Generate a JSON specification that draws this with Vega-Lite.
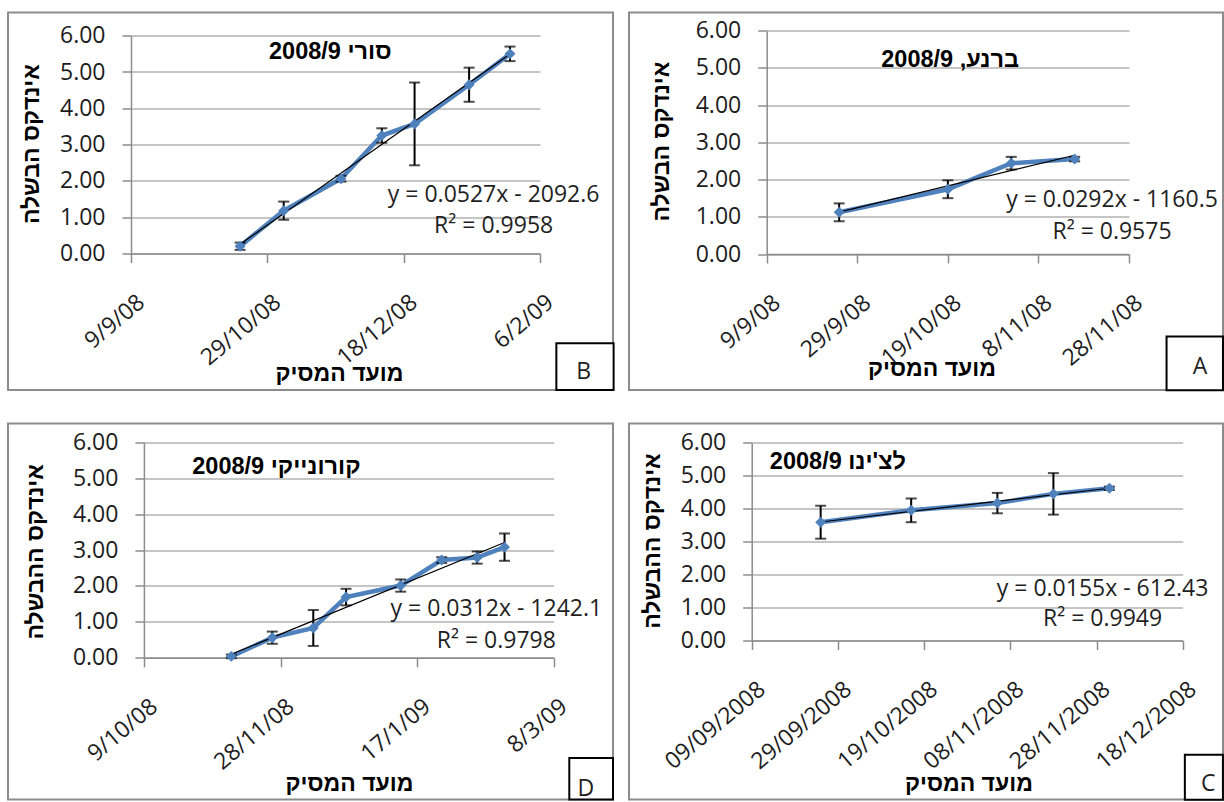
{
  "$schema": "https://vega.github.io/schema/vega-lite/v6.json",
  "padding": {"left": 7, "top": 11.5, "right": 0, "bottom": 0},
  "background": "white",
  "columns": 2,
  "spacing": {"row": 33, "column": 16},
  "bounds": "flush",
  "datasets": {
    "sori": [
      {"date": "2008-10-19T00:00", "value": 0.2, "err": 0.1},
      {"date": "2008-11-04T00:00", "value": 1.18, "err": 0.25},
      {"date": "2008-11-25T00:00", "value": 2.06, "err": 0.08},
      {"date": "2008-12-10T00:00", "value": 3.25, "err": 0.2},
      {"date": "2008-12-22T00:00", "value": 3.57, "err": 1.14},
      {"date": "2009-01-11T00:00", "value": 4.65, "err": 0.47},
      {"date": "2009-01-26T00:00", "value": 5.5, "err": 0.2}
    ],
    "barnea": [
      {"date": "2008-09-25T00:00", "value": 1.12, "err": 0.24},
      {"date": "2008-10-19T00:00", "value": 1.74, "err": 0.24},
      {"date": "2008-11-02T00:00", "value": 2.44, "err": 0.17},
      {"date": "2008-11-16T00:00", "value": 2.55, "err": 0.06}
    ],
    "koroneiki": [
      {"date": "2008-11-10T00:00", "value": 0.04, "err": 0.05},
      {"date": "2008-11-25T00:00", "value": 0.56, "err": 0.17},
      {"date": "2008-12-10T00:00", "value": 0.83, "err": 0.5},
      {"date": "2008-12-22T00:00", "value": 1.69, "err": 0.23},
      {"date": "2009-01-11T00:00", "value": 2.01, "err": 0.17},
      {"date": "2009-01-26T00:00", "value": 2.72, "err": 0.08},
      {"date": "2009-02-08T00:00", "value": 2.79, "err": 0.17},
      {"date": "2009-02-18T00:00", "value": 3.08, "err": 0.38}
    ],
    "leccino": [
      {"date": "2008-09-25T00:00", "value": 3.59, "err": 0.5},
      {"date": "2008-10-16T00:00", "value": 3.95, "err": 0.36},
      {"date": "2008-11-05T00:00", "value": 4.17, "err": 0.31},
      {"date": "2008-11-18T00:00", "value": 4.45, "err": 0.63},
      {"date": "2008-12-01T00:00", "value": 4.62, "err": 0.05}
    ],
    "notes": [
      {"panel": "B", "role": "title", "date": "2008-11-21T02:00", "value": 5.56, "text": "סורי 2008/9"},
      {"panel": "B", "role": "label", "date": "2009-01-20T00:00", "value": 1.61, "text": "y = 0.0527x - 2092.6"},
      {"panel": "B", "role": "label", "date": "2009-01-20T00:00", "value": 0.76, "text": "R² = 0.9958"},
      {"panel": "B", "role": "box", "date": "2009-02-12T00:00", "date2": "2009-03-05T00:00", "value": -2.47, "value2": -3.76},
      {"panel": "B", "role": "label", "date": "2009-02-22T00:00", "value": -3.26, "text": "B"},
      {"panel": "A", "role": "title", "date": "2008-10-19T12:00", "value": 5.22, "text": "ברנע, 2008/9"},
      {"panel": "A", "role": "label", "date": "2008-11-24T06:00", "value": 1.45, "text": "y = 0.0292x - 1160.5"},
      {"panel": "A", "role": "label", "date": "2008-11-24T06:00", "value": 0.6, "text": "R² = 0.9575"},
      {"panel": "A", "role": "box", "date": "2008-12-06T07:00", "date2": "2008-12-18T18:00", "value": -2.22, "value2": -3.66},
      {"panel": "A", "role": "label", "date": "2008-12-13T17:00", "value": -3.03, "text": "A"},
      {"panel": "D", "role": "title", "date": "2008-11-26T12:00", "value": 5.3, "text": "קורונייקי 2008/9"},
      {"panel": "D", "role": "label", "date": "2009-02-15T00:00", "value": 1.36, "text": "y = 0.0312x - 1242.1"},
      {"panel": "D", "role": "label", "date": "2009-02-15T00:00", "value": 0.48, "text": "R² = 0.9798"},
      {"panel": "D", "role": "box", "date": "2009-03-13T17:00", "date2": "2009-03-29T17:00", "value": -2.79, "value2": -3.94},
      {"panel": "D", "role": "label", "date": "2009-03-19T19:00", "value": -3.64, "text": "D"},
      {"panel": "C", "role": "title", "date": "2008-09-29T00:00", "value": 5.41, "text": "לצ'ינו 2008/9"},
      {"panel": "C", "role": "label", "date": "2008-11-29T10:00", "value": 1.57, "text": "y = 0.0155x - 612.43"},
      {"panel": "C", "role": "label", "date": "2008-11-29T10:00", "value": 0.66, "text": "R² = 0.9949"},
      {"panel": "C", "role": "box", "date": "2008-12-18T12:00", "date2": "2008-12-27T08:00", "value": -3.47, "value2": -4.83},
      {"panel": "C", "role": "label", "date": "2008-12-23T22:00", "value": -4.35, "text": "C"}
    ]
  },
  "concat": [
    {
      "width": 605,
      "height": 377.5,
      "encoding": {
        "x": {
          "field": "date", "type": "temporal",
          "scale": {"domain": [{"year": 2008, "month": 9, "date": 9}, {"year": 2009, "month": 2, "date": 6}], "range": [123, 532], "nice": false},
          "axis": {
            "values": [{"year": 2008, "month": 9, "date": 9}, {"year": 2008, "month": 10, "date": 29}, {"year": 2008, "month": 12, "date": 18}, {"year": 2009, "month": 2, "date": 6}],
            "format": "%-d/%-m/%y", "offset": -136.5,
            "title": "מועד המסיק", "titleX": 331, "titleY": 119.8
          }
        },
        "y": {
          "field": "value", "type": "quantitative",
          "scale": {"domain": [0, 6], "range": [241, 23.2], "nice": false, "zero": false},
          "axis": {"values": [0, 1, 2, 3, 4, 5, 6], "format": ".2f", "offset": -123, "title": "אינדקס הבשלה", "titleX": -100, "titleY": 131}
        }
      },
      "layer": [
        {"data": {"name": "sori", "format": {"parse": {"date": "date"}}}, "mark": {"type": "line", "color": "#4f81bd", "strokeWidth": 4.5}},
        {"data": {"name": "sori", "format": {"parse": {"date": "date"}}}, "mark": {"type": "errorbar", "ticks": true, "color": "black", "thickness": 2, "size": 11}, "encoding": {"yError": {"field": "err"}}},
        {"data": {"name": "sori", "format": {"parse": {"date": "date"}}}, "transform": [{"regression": "value", "on": "date"}], "mark": {"type": "line", "color": "black", "strokeWidth": 1.2}},
        {"data": {"name": "sori", "format": {"parse": {"date": "date"}}}, "mark": {"type": "point", "shape": "diamond", "filled": true, "size": 120, "color": "#4f81bd", "opacity": 1}},
        {"data": {"name": "notes", "format": {"parse": {"date": "date", "date2": "date"}}}, "transform": [{"filter": "datum.panel === 'B' && datum.role === 'box'"}], "mark": {"type": "rect", "fill": "white", "stroke": "black", "strokeWidth": 2}, "encoding": {"x2": {"field": "date2"}, "y2": {"field": "value2"}}},
        {"data": {"name": "notes", "format": {"parse": {"date": "date", "date2": "date"}}}, "transform": [{"filter": "datum.panel === 'B' && datum.role === 'title'"}], "mark": {"type": "text", "font": "Liberation Sans, DejaVu Sans, sans-serif", "fontWeight": "bold", "fontSize": 23.5, "color": "black", "align": "center", "baseline": "middle"}, "encoding": {"text": {"field": "text"}}},
        {"data": {"name": "notes", "format": {"parse": {"date": "date", "date2": "date"}}}, "transform": [{"filter": "datum.panel === 'B' && datum.role === 'label'"}], "mark": {"type": "text", "font": "Open Sans", "fontSize": 23, "color": "#1f1f1f", "align": "center", "baseline": "middle"}, "encoding": {"text": {"field": "text"}}}
      ]
    },
    {
      "width": 594,
      "height": 377.5,
      "encoding": {
        "x": {
          "field": "date", "type": "temporal",
          "scale": {"domain": [{"year": 2008, "month": 9, "date": 9}, {"year": 2008, "month": 11, "date": 28}], "range": [137.7, 500], "nice": false},
          "axis": {
            "values": [{"year": 2008, "month": 9, "date": 9}, {"year": 2008, "month": 9, "date": 29}, {"year": 2008, "month": 10, "date": 19}, {"year": 2008, "month": 11, "date": 8}, {"year": 2008, "month": 11, "date": 28}],
            "format": "%-d/%-m/%y", "offset": -136,
            "title": "מועד המסיק", "titleX": 302.5, "titleY": 114.3
          }
        },
        "y": {
          "field": "value", "type": "quantitative",
          "scale": {"domain": [0, 6], "range": [241.5, 18.2], "nice": false, "zero": false},
          "axis": {"values": [0, 1, 2, 3, 4, 5, 6], "format": ".2f", "offset": -137.7, "title": "אינדקס הבשלה", "titleX": -105.7, "titleY": 128.5}
        }
      },
      "layer": [
        {"data": {"name": "barnea", "format": {"parse": {"date": "date"}}}, "mark": {"type": "line", "color": "#4f81bd", "strokeWidth": 4.5}},
        {"data": {"name": "barnea", "format": {"parse": {"date": "date"}}}, "mark": {"type": "errorbar", "ticks": true, "color": "black", "thickness": 2, "size": 11}, "encoding": {"yError": {"field": "err"}}},
        {"data": {"name": "barnea", "format": {"parse": {"date": "date"}}}, "transform": [{"regression": "value", "on": "date"}], "mark": {"type": "line", "color": "black", "strokeWidth": 1.2}},
        {"data": {"name": "barnea", "format": {"parse": {"date": "date"}}}, "mark": {"type": "point", "shape": "diamond", "filled": true, "size": 120, "color": "#4f81bd", "opacity": 1}},
        {"data": {"name": "notes", "format": {"parse": {"date": "date", "date2": "date"}}}, "transform": [{"filter": "datum.panel === 'A' && datum.role === 'box'"}], "mark": {"type": "rect", "fill": "white", "stroke": "black", "strokeWidth": 2}, "encoding": {"x2": {"field": "date2"}, "y2": {"field": "value2"}}},
        {"data": {"name": "notes", "format": {"parse": {"date": "date", "date2": "date"}}}, "transform": [{"filter": "datum.panel === 'A' && datum.role === 'title'"}], "mark": {"type": "text", "font": "Liberation Sans, DejaVu Sans, sans-serif", "fontWeight": "bold", "fontSize": 23.5, "color": "black", "align": "center", "baseline": "middle"}, "encoding": {"text": {"field": "text"}}},
        {"data": {"name": "notes", "format": {"parse": {"date": "date", "date2": "date"}}}, "transform": [{"filter": "datum.panel === 'A' && datum.role === 'label'"}], "mark": {"type": "text", "font": "Open Sans", "fontSize": 23, "color": "#1f1f1f", "align": "center", "baseline": "middle"}, "encoding": {"text": {"field": "text"}}}
      ]
    },
    {
      "width": 605,
      "height": 376,
      "encoding": {
        "x": {
          "field": "date", "type": "temporal",
          "scale": {"domain": [{"year": 2008, "month": 10, "date": 9}, {"year": 2009, "month": 3, "date": 8}], "range": [135.9, 545.7], "nice": false},
          "axis": {
            "values": [{"year": 2008, "month": 10, "date": 9}, {"year": 2008, "month": 11, "date": 28}, {"year": 2009, "month": 1, "date": 17}, {"year": 2009, "month": 3, "date": 8}],
            "format": "%-d/%-m/%y", "offset": -141.7,
            "title": "מועד המסיק", "titleX": 341, "titleY": 126
          }
        },
        "y": {
          "field": "value", "type": "quantitative",
          "scale": {"domain": [0, 6], "range": [234.3, 18.7], "nice": false, "zero": false},
          "axis": {"values": [0, 1, 2, 3, 4, 5, 6], "format": ".2f", "offset": -135.9, "title": "אינדקס ההבשלה", "titleX": -107.9, "titleY": 127.8}
        }
      },
      "layer": [
        {"data": {"name": "koroneiki", "format": {"parse": {"date": "date"}}}, "mark": {"type": "line", "color": "#4f81bd", "strokeWidth": 4.5}},
        {"data": {"name": "koroneiki", "format": {"parse": {"date": "date"}}}, "mark": {"type": "errorbar", "ticks": true, "color": "black", "thickness": 2, "size": 11}, "encoding": {"yError": {"field": "err"}}},
        {"data": {"name": "koroneiki", "format": {"parse": {"date": "date"}}}, "transform": [{"regression": "value", "on": "date"}], "mark": {"type": "line", "color": "black", "strokeWidth": 1.2}},
        {"data": {"name": "koroneiki", "format": {"parse": {"date": "date"}}}, "mark": {"type": "point", "shape": "diamond", "filled": true, "size": 120, "color": "#4f81bd", "opacity": 1}},
        {"data": {"name": "notes", "format": {"parse": {"date": "date", "date2": "date"}}}, "transform": [{"filter": "datum.panel === 'D' && datum.role === 'box'"}], "mark": {"type": "rect", "fill": "white", "stroke": "black", "strokeWidth": 2}, "encoding": {"x2": {"field": "date2"}, "y2": {"field": "value2"}}},
        {"data": {"name": "notes", "format": {"parse": {"date": "date", "date2": "date"}}}, "transform": [{"filter": "datum.panel === 'D' && datum.role === 'title'"}], "mark": {"type": "text", "font": "Liberation Sans, DejaVu Sans, sans-serif", "fontWeight": "bold", "fontSize": 23.5, "color": "black", "align": "center", "baseline": "middle"}, "encoding": {"text": {"field": "text"}}},
        {"data": {"name": "notes", "format": {"parse": {"date": "date", "date2": "date"}}}, "transform": [{"filter": "datum.panel === 'D' && datum.role === 'label'"}], "mark": {"type": "text", "font": "Open Sans", "fontSize": 23, "color": "#1f1f1f", "align": "center", "baseline": "middle"}, "encoding": {"text": {"field": "text"}}}
      ]
    },
    {
      "width": 594,
      "height": 376,
      "encoding": {
        "x": {
          "field": "date", "type": "temporal",
          "scale": {"domain": [{"year": 2008, "month": 9, "date": 9}, {"year": 2008, "month": 12, "date": 18}], "range": [122.7, 553.7], "nice": false},
          "axis": {
            "values": [{"year": 2008, "month": 9, "date": 9}, {"year": 2008, "month": 9, "date": 29}, {"year": 2008, "month": 10, "date": 19}, {"year": 2008, "month": 11, "date": 8}, {"year": 2008, "month": 11, "date": 28}, {"year": 2008, "month": 12, "date": 18}],
            "format": "%d/%m/%Y", "offset": -159,
            "title": "מועד המסיק", "titleX": 339.4, "titleY": 143.3
          }
        },
        "y": {
          "field": "value", "type": "quantitative",
          "scale": {"domain": [0, 6], "range": [217, 19.3], "nice": false, "zero": false},
          "axis": {"values": [0, 1, 2, 3, 4, 5, 6], "format": ".2f", "offset": -122.7, "title": "אינדקס ההבשלה", "titleX": -99.7, "titleY": 117}
        }
      },
      "layer": [
        {"data": {"name": "leccino", "format": {"parse": {"date": "date"}}}, "mark": {"type": "line", "color": "#4f81bd", "strokeWidth": 4.5}},
        {"data": {"name": "leccino", "format": {"parse": {"date": "date"}}}, "mark": {"type": "errorbar", "ticks": true, "color": "black", "thickness": 2, "size": 11}, "encoding": {"yError": {"field": "err"}}},
        {"data": {"name": "leccino", "format": {"parse": {"date": "date"}}}, "transform": [{"regression": "value", "on": "date"}], "mark": {"type": "line", "color": "black", "strokeWidth": 1.2}},
        {"data": {"name": "leccino", "format": {"parse": {"date": "date"}}}, "mark": {"type": "point", "shape": "diamond", "filled": true, "size": 120, "color": "#4f81bd", "opacity": 1}},
        {"data": {"name": "notes", "format": {"parse": {"date": "date", "date2": "date"}}}, "transform": [{"filter": "datum.panel === 'C' && datum.role === 'box'"}], "mark": {"type": "rect", "fill": "white", "stroke": "black", "strokeWidth": 2}, "encoding": {"x2": {"field": "date2"}, "y2": {"field": "value2"}}},
        {"data": {"name": "notes", "format": {"parse": {"date": "date", "date2": "date"}}}, "transform": [{"filter": "datum.panel === 'C' && datum.role === 'title'"}], "mark": {"type": "text", "font": "Liberation Sans, DejaVu Sans, sans-serif", "fontWeight": "bold", "fontSize": 23.5, "color": "black", "align": "center", "baseline": "middle"}, "encoding": {"text": {"field": "text"}}},
        {"data": {"name": "notes", "format": {"parse": {"date": "date", "date2": "date"}}}, "transform": [{"filter": "datum.panel === 'C' && datum.role === 'label'"}], "mark": {"type": "text", "font": "Open Sans", "fontSize": 23, "color": "#1f1f1f", "align": "center", "baseline": "middle"}, "encoding": {"text": {"field": "text"}}}
      ]
    }
  ],
  "config": {
    "view": {"stroke": "#8c8c8c", "strokeWidth": 2, "fill": "white"},
    "axis": {
      "labelFont": "Open Sans", "labelFontSize": 23, "labelColor": "#1c1c1c",
      "titleFont": "Liberation Sans, DejaVu Sans, sans-serif", "titleFontSize": 23, "titleFontWeight": "bold", "titleColor": "black",
      "titleAlign": "center", "titleBaseline": "middle",
      "domainColor": "#8c8c8c", "domainWidth": 1.5,
      "tickColor": "#8c8c8c", "tickWidth": 1.5, "tickSize": 9,
      "gridColor": "#8c8c8c", "gridWidth": 1.2, "gridOpacity": 1,
      "labelFlush": false, "labelOverlap": false, "labelBound": false
    },
    "axisX": {"grid": false, "labelAngle": -40, "labelAlign": "right", "labelBaseline": "top", "labelPadding": 28, "labelOffset": 3},
    "axisY": {"grid": true, "labelPadding": 17}
  }
}
